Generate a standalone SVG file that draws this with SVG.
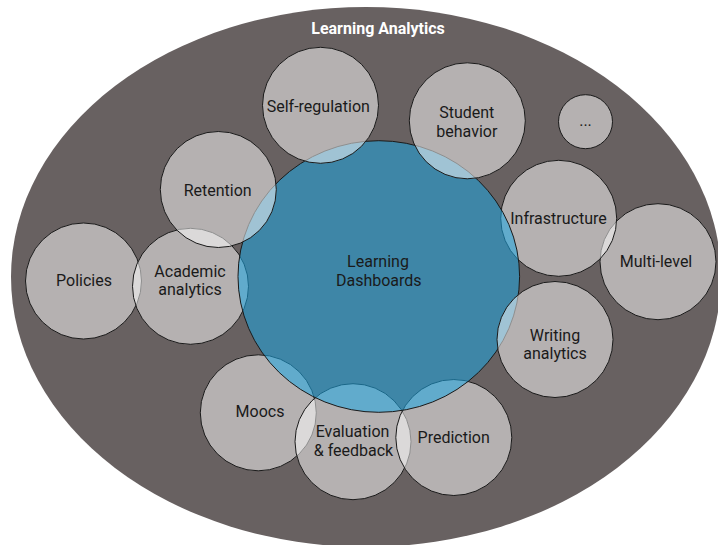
<svg xmlns="http://www.w3.org/2000/svg" width="718" height="545" viewBox="0 0 718 545">
<style>
.bub{fill:#ffffff;fill-opacity:0.51;stroke:#1a1a1a;stroke-width:1}
.core{fill:rgb(28,166,226);fill-opacity:0.55;stroke:#1a1a1a;stroke-width:1}
text{font-family:Roboto,"Liberation Sans",sans-serif;font-size:16px;fill:#1a1a1a;text-anchor:middle}
.title{font-weight:bold;fill:#ffffff}
</style>
<rect width="718" height="545" fill="#ffffff"/>
<g id="learning-analytics">
<ellipse cx="366" cy="277" rx="355" ry="270" fill="#686161"/>
<text class="title" x="378" y="34">Learning Analytics</text>
</g>
<g id="policies"><circle class="bub" cx="83.5" cy="281" r="58"/><text x="84" y="286">Policies</text></g>
<g id="multi-level"><circle class="bub" cx="658" cy="261.7" r="58"/><text x="656" y="267.3">Multi-level</text></g>
<g id="etc"><circle class="bub" cx="585.5" cy="121.7" r="27"/><text x="585.5" y="125.7">...</text></g>
<g id="infrastructure"><circle class="bub" cx="558.7" cy="218.3" r="58"/><text x="558.5" y="224">Infrastructure</text></g>
<g id="academic-analytics"><circle class="bub" cx="190.5" cy="286.3" r="58"/><text x="190" y="276.7">Academic</text><text x="190" y="294.5">analytics</text></g>
<g id="moocs"><circle class="bub" cx="258.3" cy="412.8" r="58"/><text x="260" y="416.7">Moocs</text></g>
<g id="evaluation-feedback"><circle class="bub" cx="353" cy="441.7" r="58"/><text x="352.5" y="436.7">Evaluation</text><text x="353.5" y="455.7">&amp; feedback</text></g>
<g id="prediction"><circle class="bub" cx="453.8" cy="437.5" r="58"/><text x="453.7" y="442.7">Prediction</text></g>
<g id="learning-dashboards"><ellipse class="core" cx="378.8" cy="276.5" rx="140.8" ry="135.8"/><text x="378" y="267.3">Learning</text><text x="378.8" y="285.7">Dashboards</text></g>
<g id="retention"><circle class="bub" cx="218.3" cy="189.5" r="58"/><text x="217.7" y="195.7">Retention</text></g>
<g id="self-regulation"><circle class="bub" cx="320.5" cy="105.3" r="58"/><text x="318.3" y="111.7">Self-regulation</text></g>
<g id="student-behavior"><circle class="bub" cx="467.3" cy="120.8" r="58"/><text x="466.8" y="118.3">Student</text><text x="466.8" y="136.5">behavior</text></g>
<g id="writing-analytics"><circle class="bub" cx="555" cy="339.5" r="58"/><text x="555" y="340.7">Writing</text><text x="555" y="358.7">analytics</text></g>
</svg>
